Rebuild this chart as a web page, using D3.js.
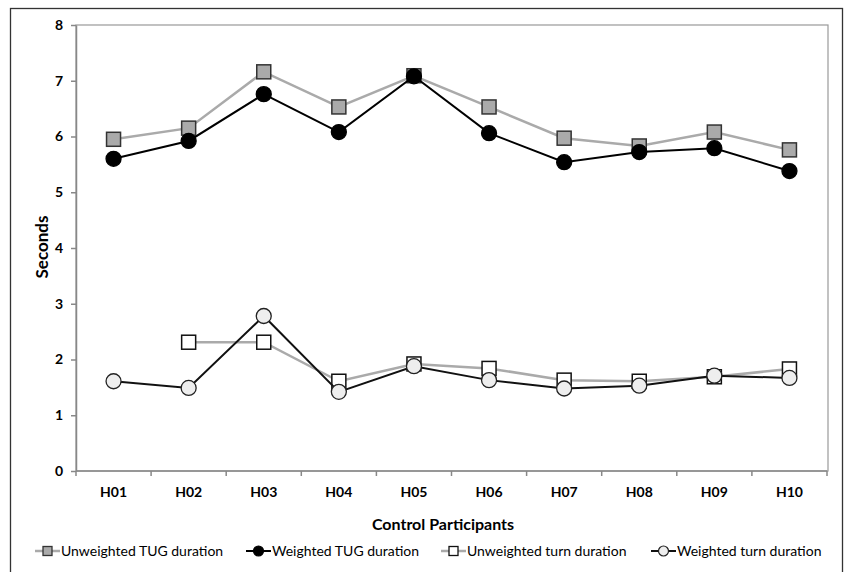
<!DOCTYPE html>
<html><head><meta charset="utf-8">
<script src="https://cdn.jsdelivr.net/npm/d3@7/dist/d3.min.js"></script>
<style>body{margin:0;background:#fff}svg{display:block;font-family:Lato,"Open Sans",sans-serif}</style>
</head><body><svg id="c" width="844" height="572"></svg>
<script>
const categories = ["H01","H02","H03","H04","H05","H06","H07","H08","H09","H10"];
const yTicks = [0,1,2,3,4,5,6,7,8];
const unweightedTUG = [5.95,6.15,7.16,6.53,7.09,6.53,5.97,5.83,6.08,5.76];
const weightedTUG   = [5.60,5.92,6.76,6.08,7.08,6.06,5.54,5.72,5.79,5.38];
const unweightedTurn = [null,2.31,2.31,1.61,1.92,1.84,1.63,1.61,1.69,1.83];
const weightedTurn   = [1.61,1.49,2.78,1.42,1.88,1.63,1.48,1.53,1.71,1.67];
const seriesNames = ["Unweighted TUG duration","Weighted TUG duration","Unweighted turn duration","Weighted turn duration"];

const svg = d3.select("#c");
svg.append("rect").attr("x",10.5).attr("y",8.5).attr("width",832).attr("height",570)
  .attr("fill","none").attr("stroke","#333").attr("stroke-width",1.3);

const x = d3.scaleBand().domain(categories).range([76,827]);
const y = d3.scaleLinear().domain([0,8]).range([471,25]);

svg.append("rect").attr("x",76).attr("y",y(8)).attr("width",752).attr("height",y(0)-y(8))
  .attr("fill","none").attr("stroke","#999").attr("stroke-width",1.2);

const yAxis = svg.append("g").attr("transform","translate(76,0)")
  .call(d3.axisLeft(y).tickValues(yTicks).tickSize(5).tickPadding(8).tickSizeOuter(0));
const xAxis = svg.append("g").attr("transform","translate(0,471)")
  .call(d3.axisBottom(x).tickSize(0).tickPadding(16));
const edges = categories.map(c=>x(c)).concat([x.range()[1]]);
xAxis.selectAll(".edge").data(edges).enter().append("line").attr("class","edge")
  .attr("x1",d=>d).attr("x2",d=>d).attr("y1",0).attr("y2",5);
[yAxis,xAxis].forEach(a=>{
  a.selectAll("path,line").attr("stroke","#888").attr("stroke-width",1.5);
  a.selectAll("text").attr("font-size",14).attr("font-weight","bold").attr("fill","#000").attr("font-family","Lato, sans-serif");
});
xAxis.select(".domain").attr("d","M76,0H827");

svg.append("text").attr("transform","translate(48,247) rotate(-90)").attr("text-anchor","middle")
  .attr("font-size",17).attr("font-weight","bold").text("Seconds");
svg.append("text").attr("x",443).attr("y",530).attr("text-anchor","middle")
  .attr("font-size",16).attr("font-weight","bold").text("Control Participants");

const cx = i => x(categories[i]) + x.bandwidth()/2;
const styles = [
  {data:unweightedTUG, line:"#aaaaaa", lw:2.5, shape:"square", fill:"#aaaaaa", stroke:"#333"},
  {data:weightedTUG, line:"#000", lw:2, shape:"circle", fill:"#000", stroke:"#000"},
  {data:unweightedTurn, line:"#aaaaaa", lw:2.5, shape:"square", fill:"#fff", stroke:"#111"},
  {data:weightedTurn, line:"#111", lw:2, shape:"circle", fill:"#eeeeee", stroke:"#222"}
];
styles.forEach(s=>{
  const line = d3.line().defined(d=>d!=null).x((d,i)=>cx(i)).y(d=>y(d));
  svg.append("path").attr("d",line(s.data)).attr("fill","none").attr("stroke",s.line).attr("stroke-width",s.lw);
  const pts = s.data.map((v,i)=>({v,i})).filter(d=>d.v!=null);
  const g = svg.append("g");
  if(s.shape==="square"){
    g.selectAll("rect").data(pts).enter().append("rect")
      .attr("x",d=>cx(d.i)-7).attr("y",d=>y(d.v)-7).attr("width",14).attr("height",14)
      .attr("fill",s.fill).attr("stroke",s.stroke).attr("stroke-width",1.5);
  } else {
    g.selectAll("circle").data(pts).enter().append("circle")
      .attr("cx",d=>cx(d.i)).attr("cy",d=>y(d.v)).attr("r",7.5)
      .attr("fill",s.fill).attr("stroke",s.stroke).attr("stroke-width",1.3);
  }
});

// legend
const legTextX = [61,272,467,677];
const ly = 551;
styles.forEach((s,k)=>{
  const g = svg.append("g").attr("transform",`translate(${legTextX[k]},${ly})`);
  g.append("line").attr("x1",-26).attr("x2",-1).attr("y1",0).attr("y2",0).attr("stroke",s.line).attr("stroke-width",s.lw);
  if(s.shape==="square") g.append("rect").attr("x",-18).attr("y",-4.5).attr("width",9).attr("height",9)
    .attr("fill",s.fill).attr("stroke",s.stroke).attr("stroke-width",1.3);
  else g.append("circle").attr("cx",-13.5).attr("cy",0).attr("r",5).attr("fill",s.fill).attr("stroke",s.stroke).attr("stroke-width",1.2);
  g.append("text").attr("x",0).attr("y",5).attr("font-size",14).text(seriesNames[k]);
});
</script></body></html>
